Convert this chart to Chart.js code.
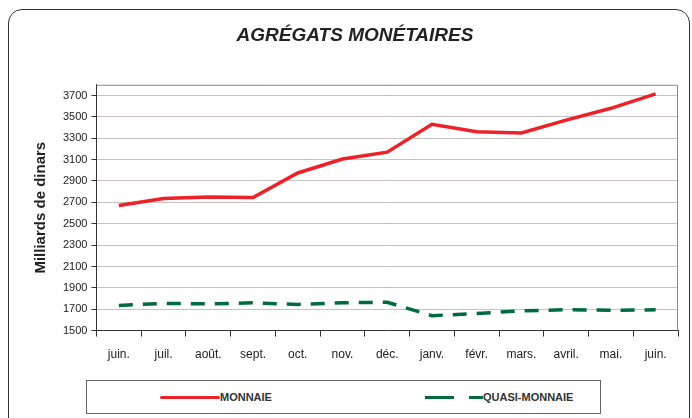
<!DOCTYPE html>
<html>
<head>
<meta charset="utf-8">
<script src="https://cdn.jsdelivr.net/npm/chart.js@4"></script>
<style>
  body { margin: 0; background: #fff; font-family: "Liberation Sans", Arial, sans-serif; }
  #frame { position: relative; width: 692px; height: 418px; overflow: hidden; }
  #border { position: absolute; left: 8px; top: 9px; width: 680px; height: 440px;
            border: 1px solid #333; border-radius: 14px; }
  #wrap { position: absolute; left: 20px; top: 18px; width: 672px; height: 355px; }
  #legend { position: absolute; left: 86px; top: 380px; width: 513px; height: 32px;
            border: 1px solid #666; }
  .item { position: absolute; top: 0; height: 32px; display: flex; align-items: center;
          font-size: 11px; font-weight: bold; color: #333; }
  .sample { display: inline-block; height: 3px; }
</style>
</head>
<body>
<div id="frame">
  <div id="border"></div>
  <div id="wrap"><canvas id="chart"></canvas></div>
  <div id="legend"></div>
</div>
<script>
// Données
const months = ['juin.', 'juil.', 'août.', 'sept.', 'oct.', 'nov.', 'déc.', 'janv.', 'févr.', 'mars.', 'avril.', 'mai.', 'juin.'];
const monnaie = [2670, 2735, 2750, 2745, 2975, 3105, 3170, 3430, 3360, 3350, 3470, 3580, 3715];
const quasiMonnaie = [1735, 1755, 1750, 1760, 1745, 1760, 1765, 1640, 1660, 1685, 1695, 1690, 1695];
const yTicks = [1500, 1700, 1900, 2100, 2300, 2500, 2700, 2900, 3100, 3300, 3500, 3700];

const red = '#ee2028';
const green = '#006b3c';

// bordure grise haut/droite de la zone de tracé
const plotBorder = {
    id: 'plotBorder',
    afterDraw(chart) {
        const a = chart.chartArea;
        const c = chart.ctx;
        c.save();
        c.strokeStyle = '#888';
        c.lineWidth = 1;
        c.beginPath();
        c.moveTo(a.left, a.top + 0.5);
        c.lineTo(a.right - 0.5, a.top + 0.5);
        c.lineTo(a.right - 0.5, a.bottom);
        c.stroke();
        c.restore();
    }
};

const ctx = document.getElementById('chart').getContext('2d');
const chart = new Chart(ctx, {
    type: 'line',
    data: {
        labels: months,
        datasets: [
            {
                label: 'MONNAIE',
                data: monnaie,
                borderColor: red,
                borderWidth: 3.5,
                pointRadius: 0,
                tension: 0,
                fill: false
            },
            {
                label: 'QUASI-MONNAIE',
                data: quasiMonnaie,
                borderColor: green,
                borderWidth: 3.5,
                borderDash: [14, 10],
                pointRadius: 0,
                tension: 0,
                fill: false
            }
        ]
    },
    options: {
        responsive: true,
        maintainAspectRatio: false,
        animation: false,
        layout: { padding: { left: 12, right: 14, top: 0, bottom: 0 } },
        plugins: {
            legend: { display: false },
            tooltip: { enabled: false },
            title: {
                display: true,
                text: 'AGRÉGATS MONÉTAIRES',
                color: '#222',
                font: { family: 'Liberation Sans', size: 19, weight: 'bold', style: 'italic' },
                padding: { top: 6, bottom: 38 }
            }
        },
        scales: {
            x: {
                offset: true,
                border: { color: '#333', width: 1 },
                grid: { display: true, drawOnChartArea: false, drawTicks: true, tickLength: 6, color: '#333', offset: true },
                ticks: { color: '#222', font: { family: 'Liberation Sans', size: 12 }, padding: 11, maxRotation: 0, autoSkip: false }
            },
            y: {
                min: 1500,
                max: 3800,
                border: { color: '#333', width: 1 },
                afterBuildTicks: (axis) => { axis.ticks = yTicks.map(v => ({ value: v })); },
                grid: { color: '#c9c1c1', lineWidth: 1, drawTicks: true, tickLength: 5, tickColor: '#333' },
                ticks: {
                    color: '#222',
                    font: { family: 'Liberation Sans', size: 11 },
                    padding: 4,
                    callback: (v) => String(v)
                },
                title: {
                    display: true,
                    text: 'Milliards de dinars',
                    color: '#222',
                    font: { family: 'Liberation Sans', size: 15, weight: 'bold' },
                    padding: { top: 0, bottom: 9 }
                }
            }
        }
    },
    plugins: [plotBorder]
});

// légende encadrée
const legend = document.getElementById('legend');
const legendPos = [73, 338];
chart.data.datasets.forEach((ds, i) => {
    const item = document.createElement('div');
    item.className = 'item';
    item.style.left = legendPos[i] + 'px';
    let sample = '';
    if (ds.borderDash) {
        sample = '<span class="sample" style="width:29px;background:' + ds.borderColor + '"></span>' +
                 '<span class="sample" style="width:14px;margin-left:15px;background:' + ds.borderColor + '"></span>';
    } else {
        sample = '<span class="sample" style="width:60px;border-radius:2px;background:' + ds.borderColor + '"></span>';
    }
    item.innerHTML = sample + '<span>' + ds.label + '</span>';
    legend.appendChild(item);
});
</script>
</body>
</html>
